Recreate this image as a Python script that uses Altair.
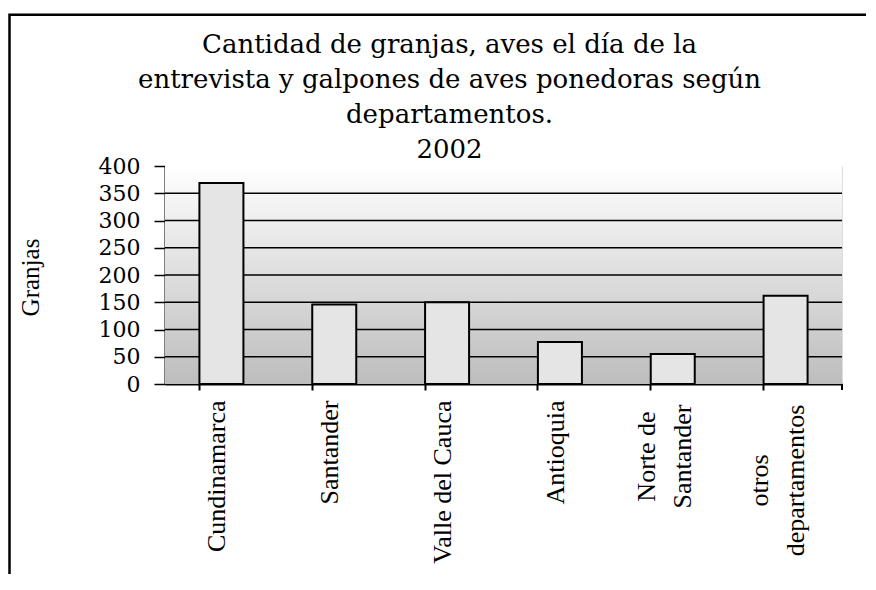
import altair as alt
import pandas as pd

# ---- data ----
categories = ["Cundinamarca", "Santander", "Valle del Cauca", "Antioquia",
              "Norte de Santander", "otros departamentos"]
granjas = [369, 146, 150, 77, 55, 162]
y_ticks = [0, 50, 100, 150, 200, 250, 300, 350, 400]
grid_values = [50, 100, 150, 200, 250, 300, 350]
label_lines = {"Norte de Santander": ["Norte de", "Santander"],
               "otros departamentos": ["otros", "departamentos"]}
title_lines = ["Cantidad de granjas, aves el día de la",
               "entrevista y galpones de aves ponedoras según",
               "departamentos.",
               "2002"]
y_title = "Granjas"

W, H = 677, 218

df = pd.DataFrame({"departamento": categories, "granjas": granjas})
grid_df = pd.DataFrame({"v": grid_values})
one = pd.DataFrame({"a": [0]})

# label expression: multi-line labels
expr = "datum.label"
for k, lines in label_lines.items():
    arr = "[" + ", ".join("'" + s + "'" for s in lines) + "]"
    expr = f"datum.label == '{k}' ? {arr} : ({expr})"
multi_test = " || ".join(f"datum.value == '{k}'" for k in label_lines)

x_scale = alt.Scale(paddingInner=0.61, paddingOuter=0.305)
y_scale = alt.Scale(domain=[0, 400], nice=False)

x_enc = alt.X(
    "departamento:N", sort=categories, title=None, scale=x_scale,
    axis=alt.Axis(
        labelAngle=270,
        labelAlign={"condition": {"test": multi_test, "value": "center"}, "value": "right"},
        labelPadding={"condition": [
            {"test": "datum.value == 'Norte de Santander'", "value": 66},
            {"test": "datum.value == 'otros departamentos'", "value": 90}], "value": 10},
        labelOffset={"condition": {"test": multi_test, "value": -26}, "value": -4},
        labelBaseline="middle",
        labelFont="Liberation Serif", labelFontSize=26, labelColor="black",
        labelLineHeight=36, labelExpr=expr,
        tickSize=6, tickWidth=2, tickColor="black",
        domainColor="black", domainWidth=2, bandPosition=0,
        labelOverlap=False, labelLimit=0,
    ),
)

y_axis = alt.Axis(
    values=y_ticks, grid=False, tickSize=11, tickWidth=1.5, tickColor="black",
    domainColor="black", domainWidth=2,
    labelFont="DejaVu Serif", labelFontSize=22, labelColor="black", labelPadding=14,
    title=y_title, titleFont="Liberation Serif", titleFontSize=25,
    titleFontWeight="normal", titleColor="black",
    titleX=-135, titleY=111, titleAngle=270, titleAlign="center",
    titleBaseline="middle",
)

gradient = alt.LinearGradient(
    gradient="linear",
    stops=[alt.GradientStop(color="#ffffff", offset=0),
           alt.GradientStop(color="#bdbdbd", offset=1)],
    x1=0, x2=0, y1=0, y2=1,
)

bg = alt.Chart(one).mark_rect(fill=gradient, strokeWidth=0).encode(
    x=alt.value(0), x2=alt.value(W),
    y=alt.value(0), y2=alt.value(H),
)

grid = alt.Chart(grid_df).mark_rule(color="black", strokeWidth=1.6).encode(
    y=alt.Y("v:Q", scale=y_scale, axis=y_axis),
    x=alt.value(0), x2=alt.value(W),
)

bars = alt.Chart(df).mark_bar(fill="#e5e5e5", stroke="black", strokeWidth=2).encode(
    x=x_enc, y=alt.Y("granjas:Q", scale=y_scale, axis=y_axis),
)

end_tick = alt.Chart(one).mark_rule(color="black", strokeWidth=2).encode(
    x=alt.value(W), y=alt.value(H), y2=alt.value(H + 6),
)

frame = alt.Chart(one).mark_rect(filled=False, stroke="black", strokeWidth=2.5).encode(
    x=alt.value(-155.5), y=alt.value(-151.3),
    x2=alt.value(W + 200), y2=alt.value(H + 300),
)

chart = alt.layer(bg, grid, bars, end_tick, frame).properties(
    width=W, height=H,
    title=alt.TitleParams(
        text=title_lines, font="DejaVu Serif", fontSize=26, fontWeight="normal",
        color="black", anchor="middle", dx=-54, offset=-150, lineHeight=35,
        frame="group",
    ),
    autosize=alt.AutoSizeParams(type="none"),
    padding={"left": 157, "top": 158, "right": 24, "bottom": 190},
).configure_view(stroke="#808080", strokeWidth=1.5).configure(background="white")

chart.save("out.html", embed_options={"renderer": "svg", "actions": False})
